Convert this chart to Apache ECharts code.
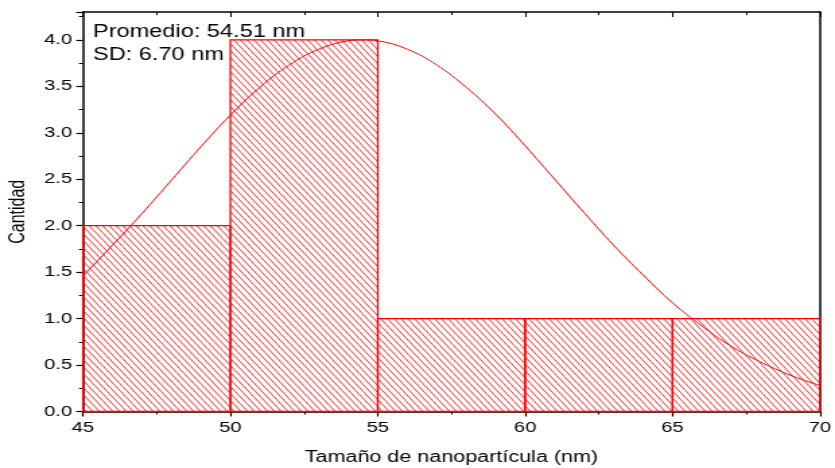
<!DOCTYPE html>
<html>
<head>
<meta charset="utf-8">
<script src="https://cdn.jsdelivr.net/npm/echarts@6/dist/echarts.min.js"></script>
<style>
  html, body { margin: 0; padding: 0; background: #fff; overflow: hidden; }
  /* la figura original está estirada en horizontal */
  #main { width: 620px; height: 468px; transform: scaleX(1.3468); transform-origin: 0 0; }
</style>
</head>
<body>
<div id="main"></div>
<script>
// histograma de tamaños
var binStart = [45, 50, 55, 60, 65];
var binEnd = [50, 55, 60, 65, 70];
var counts = [2, 4, 1, 1, 1];

// curva de ajuste
var curveX = [45, 46, 47, 48, 49, 50, 51, 52, 53, 54, 54.5, 55, 56, 57, 58, 59, 60, 61, 62, 63, 64, 65, 66, 67, 68, 69, 70];
var curveY = [1.46, 1.79, 2.13, 2.49, 2.85, 3.19, 3.49, 3.73, 3.90, 3.99, 4.00, 3.99, 3.90, 3.73, 3.49, 3.20, 2.86, 2.50, 2.14, 1.79, 1.47, 1.17, 0.92, 0.70, 0.53, 0.39, 0.28];

var yTicks = [0, 0.5, 1.0, 1.5, 2.0, 2.5, 3.0, 3.5, 4.0];

var notaMedia = 'Promedio: 54.51 nm';
var notaSD = 'SD: 6.70 nm';

function makeHatch() {
    var w = 5, h = 7;
    var c = document.createElement('canvas');
    c.width = w;
    c.height = h;
    var ctx = c.getContext('2d');
    ctx.strokeStyle = '#ff0000';
    ctx.lineWidth = 0.8;
    for (var k = -1; k <= 1; k++) {
        ctx.beginPath();
        ctx.moveTo(k * w - w, -h);
        ctx.lineTo(k * w + 2 * w, 2 * h);
        ctx.stroke();
    }
    return c;
}

(function () {
    var myChart = echarts.init(document.getElementById('main'));
    var hatch = { image: makeHatch(), repeat: 'repeat' };

    var bars = [];
    for (var i = 0; i < counts.length; i++) {
        bars.push([binStart[i], binEnd[i], counts[i]]);
    }
    var curve = [];
    for (var j = 0; j < curveX.length; j++) {
        curve.push([curveX[j], curveY[j]]);
    }

    var font = 'Liberation Sans, Arial, sans-serif';
    var option = {
        animation: false,
        grid: { left: 61.6, right: 11.2, top: 12, bottom: 56.5, outerBoundsMode: 'none', containLabel: false },
        xAxis: [{
            type: 'value',
            position: 'bottom',
            min: 45,
            max: 70,
            interval: 5,
            name: 'Tamaño de nanopartícula (nm)',
            nameLocation: 'middle',
            nameGap: 38,
            nameTextStyle: { fontFamily: font, fontSize: 16, color: '#000' },
            axisLine: { show: true, onZero: false, lineStyle: { color: '#000', width: 1.5 } },
            axisTick: { length: 5, lineStyle: { color: '#000', width: 1.2 } },
            minorTick: { show: true, splitNumber: 2, length: 3, lineStyle: { color: '#000', width: 1 } },
            axisLabel: { fontFamily: font, fontSize: 15, color: '#000', margin: 9 },
            splitLine: { show: false }
        }, {
            type: 'value',
            position: 'top',
            min: 45,
            max: 70,
            interval: 5,
            axisLine: { show: true, onZero: false, lineStyle: { color: '#000', width: 1.5 } },
            axisTick: { inside: true, length: 5, lineStyle: { color: '#000', width: 1 } },
            minorTick: { show: true, splitNumber: 2, length: 3, lineStyle: { color: '#000', width: 1 } },
            axisLabel: { show: false },
            splitLine: { show: false }
        }],
        yAxis: [{
            type: 'value',
            position: 'left',
            min: 0,
            max: 4.3,
            interval: 0.5,
            name: 'Cantidad',
            nameLocation: 'middle',
            nameGap: 32,
            nameTextStyle: { fontFamily: font, fontSize: 16, color: '#000' },
            axisLine: { show: true, onZero: false, lineStyle: { color: '#000', width: 1.5 } },
            axisTick: { show: true, length: 5, lineStyle: { color: '#000', width: 1.2 } },
            minorTick: { show: true, splitNumber: 2, length: 3, lineStyle: { color: '#000', width: 1 } },
            axisLabel: {
                fontFamily: font, fontSize: 15, color: '#000', margin: 8,
                showMaxLabel: false,
                formatter: function (v) {
                    return yTicks.indexOf(v) >= 0 ? v.toFixed(1) : '';
                }
            },
            splitLine: { show: false }
        }, {
            type: 'value',
            position: 'right',
            min: 0,
            max: 4.3,
            axisLine: { show: true, onZero: false, lineStyle: { color: '#000', width: 1.5 } },
            axisTick: { show: false },
            axisLabel: { show: false },
            splitLine: { show: false }
        }],
        graphic: [{
            type: 'text',
            left: 69,
            top: 23,
            style: { text: notaMedia, font: '17.5px ' + font, fill: '#000' }
        }, {
            type: 'text',
            left: 69,
            top: 46,
            style: { text: notaSD, font: '17.5px ' + font, fill: '#000' }
        }],
        series: [{
            type: 'custom',
            xAxisIndex: 0,
            yAxisIndex: 0,
            data: bars,
            encode: { x: [0, 1], y: 2 },
            z: 1,
            renderItem: function (params, api) {
                var p0 = api.coord([api.value(0), api.value(2)]);
                var p1 = api.coord([api.value(1), 0]);
                return {
                    type: 'rect',
                    shape: { x: p0[0], y: p0[1], width: p1[0] - p0[0], height: p1[1] - p0[1] },
                    style: { fill: hatch, stroke: '#ff0000', lineWidth: 1.3 }
                };
            }
        }, {
            type: 'line',
            xAxisIndex: 0,
            yAxisIndex: 0,
            data: curve,
            smooth: 0.4,
            symbol: 'none',
            z: 3,
            lineStyle: { color: '#ff0000', width: 1 }
        }]
    };
    myChart.setOption(option);
})();
</script>
</body>
</html>
